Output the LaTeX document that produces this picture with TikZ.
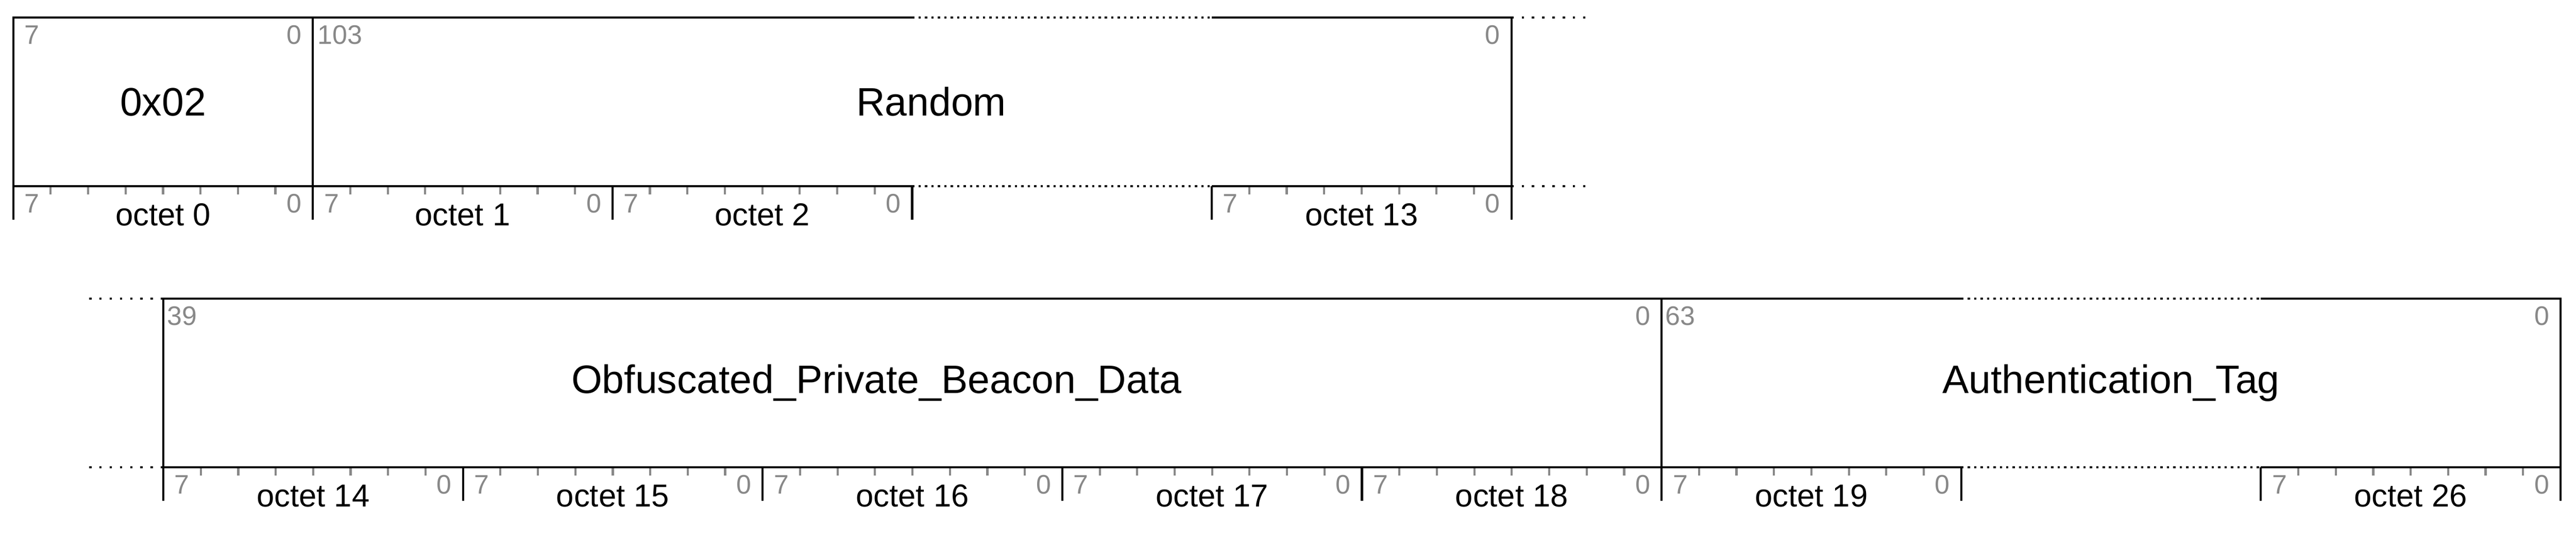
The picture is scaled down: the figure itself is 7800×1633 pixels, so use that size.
\documentclass[tikz,border=0pt]{standalone}
\usepackage{fontspec}
\setmainfont{Liberation Sans}
\definecolor{lblgray}{RGB}{136,136,136}
\begin{document}
\begin{tikzpicture}[x=0.1pt,y=-0.1pt,
  frame/.style={line width=0.65pt, draw=black},
  gapline/.style={line width=0.65pt, draw=black, dash pattern=on 0.7pt off 1.245pt},
  extline/.style={line width=0.65pt, draw=black, dash pattern=on 0.7pt off 2.4pt},
  tickmark/.style={line width=0.65pt, draw=lblgray},
  bitlbl/.style={anchor=base, inner sep=0pt, text=lblgray, font=\fontsize{8.1}{9.5}\selectfont},
  octlbl/.style={anchor=base, inner sep=0pt, text=black, font=\fontsize{9.6}{11.5}\selectfont},
  fieldlbl/.style={anchor=base, inner sep=0pt, text=black, font=\fontsize{12}{14.4}\selectfont},
]
\useasboundingbox (0,0) rectangle (7800,1633);

% ---------------- row 1 ----------------
\foreach \L/\n in {40/0, 947.3/1, 1854.6/2, 3669.2/13} {
  \foreach \k in {1,...,7}
    \draw[tickmark] ({\L+\k*113.4125},563.4) -- ({\L+\k*113.4125},588.5);
  \node[bitlbl] (hi\n) at ({\L+56.7},643.8) {7};
  \node[bitlbl] (lo\n) at ({\L+907.3-56.7},643.8) {0};
  \node[octlbl] (oct\n) at ({\L+453.65},682.3) {octet \n};
}
\draw[frame] (2761.9,53.6) -- (40,53.6) -- (40,665);
\draw[frame] (40,563.4) -- (2761.9,563.4);
\draw[gapline] (2761.9,53.6) -- (3669.2,53.6);
\draw[gapline] (2761.9,563.4) -- (3669.2,563.4);
\draw[frame] (3669.2,53.6) -- (4576.5,53.6) -- (4576.5,665);
\draw[frame] (3669.2,563.4) -- (4576.5,563.4);
\draw[frame] (947.3,53.6) -- (947.3,665);
\foreach \X in {1854.6, 2761.9, 3669.2}
  \draw[frame] (\X,563.4) -- (\X,665);
\draw[extline] (4576.5,53.6) -- (4800,53.6);
\draw[extline] (4576.5,563.4) -- (4800,563.4);

\node[bitlbl] (f0hi) at (96.7,133.5) {7};
\node[bitlbl] (f0lo) at (890.6,133.5) {0};
\node[bitlbl, anchor=base west] (f1hi) at (960,133.5) {103};
\node[bitlbl] (f1lo) at (4519.8,133.5) {0};
\node[fieldlbl] (f0) at (493.65,350.5) {0x02};
\node[fieldlbl] (f1) at (2820,350.5) {Random};

% ---------------- row 2 ----------------
\foreach \L/\n in {494.6/14, 1401.9/15, 2309.2/16, 3216.5/17, 4123.8/18, 5031.1/19, 6845.7/26} {
  \foreach \k in {1,...,7}
    \draw[tickmark] ({\L+\k*113.4125},1413.3) -- ({\L+\k*113.4125},1438.4);
  \node[bitlbl] (hi\n) at ({\L+56.7},1494.2) {7};
  \node[bitlbl] (lo\n) at ({\L+907.3-56.7},1494.2) {0};
  \node[octlbl] (oct\n) at ({\L+453.65},1532.5) {octet \n};
}
\draw[frame] (5938.4,903.4) -- (494.6,903.4) -- (494.6,1515.5);
\draw[frame] (494.6,1413.3) -- (5938.4,1413.3);
\draw[gapline] (5938.4,903.4) -- (6845.7,903.4);
\draw[gapline] (5938.4,1413.3) -- (6845.7,1413.3);
\draw[frame] (6845.7,903.4) -- (7753,903.4) -- (7753,1515.5);
\draw[frame] (6845.7,1413.3) -- (7753,1413.3);
\draw[frame] (5031.1,903.4) -- (5031.1,1515.5);
\foreach \X in {1401.9, 2309.2, 3216.5, 4123.8, 5938.4, 6845.7}
  \draw[frame] (\X,1413.3) -- (\X,1515.5);
\draw[extline] (270,903.4) -- (494.6,903.4);
\draw[extline] (270,1413.3) -- (494.6,1413.3);

\node[bitlbl] (f2hi) at (551.3,983.5) {39};
\node[bitlbl] (f2lo) at (4974.4,983.5) {0};
\node[bitlbl] (f3hi) at (5087.8,983.5) {63};
\node[bitlbl] (f3lo) at (7696.3,983.5) {0};
\node[fieldlbl] (f2) at (2654,1190) {Obfuscated\_Private\_Beacon\_Data};
\node[fieldlbl] (f3) at (6392,1190) {Authentication\_Tag};
\end{tikzpicture}
\end{document}
